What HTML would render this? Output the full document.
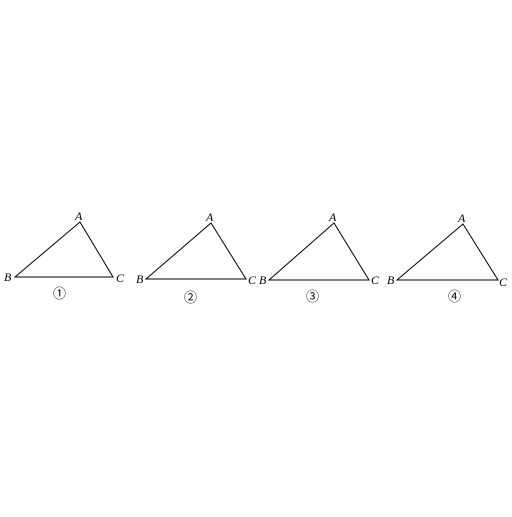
<!DOCTYPE html>
<html><head><meta charset="utf-8"><style>body{margin:0;background:#fff}svg text{font-family:"Liberation Serif",serif;font-size:12px;font-style:italic;fill:#000}svg text.n{font-style:normal;font-family:"Liberation Serif","Noto Sans CJK SC",serif;font-size:13px}</style></head>
<body>
<svg width="512" height="512">
<g>
<polygon points="80,222 15,277 113,277" fill="none" stroke="#000" stroke-width="1"/>
<text x="75" y="220">A</text><text x="4" y="281">B</text><text x="116" y="282">C</text>
<text class="n" x="53" y="298">①</text></g>
<g>
<polygon points="211,223 146,279 246,279" fill="none" stroke="#000" stroke-width="1"/>
<text x="206" y="221">A</text><text x="136" y="283">B</text><text x="248" y="284">C</text>
<text class="n" x="184" y="302">②</text></g>
<g>
<polygon points="334,223 269,280 369,280" fill="none" stroke="#000" stroke-width="1"/>
<text x="329" y="221">A</text><text x="259" y="284">B</text><text x="371" y="284">C</text>
<text class="n" x="306" y="301">③</text></g>
<g>
<polygon points="463,224 397,280 498,280" fill="none" stroke="#000" stroke-width="1"/>
<text x="458" y="222">A</text><text x="387" y="284">B</text><text x="499" y="286">C</text>
<text class="n" x="448" y="301">④</text></g>
</svg>
</body></html>
